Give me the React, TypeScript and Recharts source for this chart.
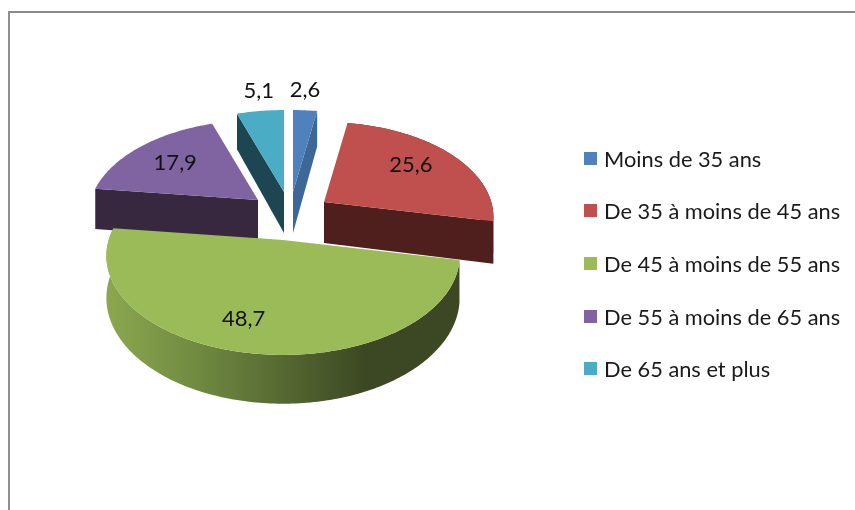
import React from "react";
import { PieChart, Pie, Legend } from "recharts";

const categories = [
  "Moins de 35 ans",
  "De 35 à moins de 45 ans",
  "De 45 à moins de 55 ans",
  "De 55 à moins de 65 ans",
  "De 65 ans et plus",
];
const values = [2.6, 25.6, 48.7, 17.9, 5.1];
const valueLabels = ["2,6", "25,6", "48,7", "17,9", "5,1"];
const topColors = ["#4F81BD", "#C0504D", "#9BBB59", "#8064A2", "#4BACC6"];
const sideColors = ["#3C6797", "#4F1F1E", "url(#greenSide)", "#37283F", "#1D4552"];

// painting order: back slices first, the big front slice last
const drawOrder = [3, 4, 0, 1, 2];
const total = values.reduce((a, b) => a + b, 0);
const before = values.slice(0, drawOrder[0]).reduce((a, b) => a + b, 0);
const START = 90 - (before / total) * 360;

const explodeX = [10, 41, 0, -25, 1];
const explodeY = [-48, -38, 0, -40, -48];
const radiusScale = [0.97, 0.945, 0.985, 0.945, 0.97];
const labelFactor = [1.2, 0.65, 0.68, 0.65, 1.2];
const labelNudgeX = [-3, 0, -16, -2, 4];
const labelNudgeY = [-2, -5, -1, -2, -2];

const chartData = drawOrder.map((i) => ({
  name: categories[i],
  value: values[i],
  idx: i,
  fill: topColors[i],
}));

const TILT = 98 / 177;
const PERSP = 0.16;
const DEPTH = 41;
const FONT = "Lato, 'Open Sans', sans-serif";

function project(r: number, deg: number, f = 1) {
  const a = (deg * Math.PI) / 180;
  const u = Math.cos(a);
  const v = Math.sin(a);
  const s = 1 / (1 + PERSP * v);
  return { x: r * u * s * f, y: -r * TILT * v * s * f, s };
}

function SliceShape(props: any) {
  const { cx, cy, outerRadius, startAngle, endAngle, payload } = props;
  const i = (payload && payload.idx !== undefined ? payload.idx : props.idx) as number;
  const ox = cx + explodeX[i];
  const oy = cy + explodeY[i];
  const pts: { x: number; y: number; s: number }[] = [];
  const steps = Math.max(2, Math.ceil(Math.abs(endAngle - startAngle)));
  for (let k = 0; k <= steps; k++) {
    const d = startAngle + ((endAngle - startAngle) * k) / steps;
    const p = project(outerRadius * radiusScale[i], d);
    pts.push({ x: ox + p.x, y: oy + p.y, s: p.s });
  }
  const top = `M${ox},${oy}` + pts.map((p) => `L${p.x},${p.y}`).join("") + "Z";
  const side =
    "M" +
    pts.map((p) => `${p.x},${p.y}`).join("L") +
    "L" +
    [...pts].reverse().map((p) => `${p.x},${p.y + DEPTH * p.s}`).join("L") +
    "Z";
  const face = (p: { x: number; y: number; s: number }) =>
    `M${ox},${oy}L${p.x},${p.y}L${p.x},${p.y + DEPTH * p.s}L${ox},${oy + DEPTH}Z`;
  const a0 = (startAngle * Math.PI) / 180;
  const a1 = (endAngle * Math.PI) / 180;
  // a cut face is visible when its outward normal points towards the viewer
  const showStart = Math.cos(a0) < 0;
  const showEnd = Math.cos(a1) > 0;
  const frontArc = Math.sin(a0) < 0 || Math.sin(a1) < 0;
  return (
    <g>
      {frontArc && <path d={side} fill={sideColors[i]} />}
      {showStart && <path d={face(pts[0])} fill={sideColors[i]} />}
      {showEnd && <path d={face(pts[pts.length - 1])} fill={sideColors[i]} />}
      <path d={top} fill={topColors[i]} />
    </g>
  );
}

function SliceLabel(props: any) {
  const { cx, cy, outerRadius, midAngle, payload } = props;
  const i = (payload && payload.idx !== undefined ? payload.idx : props.idx) as number;
  const p = project(outerRadius, midAngle, labelFactor[i]);
  return (
    <text
      x={cx + explodeX[i] + p.x + labelNudgeX[i]}
      y={cy + explodeY[i] + p.y + labelNudgeY[i]}
      textAnchor="middle"
      dominantBaseline="central"
      fontFamily={FONT}
      fontSize={22}
      fill="#111"
    >
      {valueLabels[i]}
    </text>
  );
}

function LegendBox() {
  return (
    <div style={{ position: "relative", width: 270, height: 240 }}>
      {categories.map((c, i) => (
        <div
          key={c}
          style={{
            position: "absolute",
            left: 0,
            top: i * 52.7,
            height: 24,
            display: "flex",
            alignItems: "center",
            whiteSpace: "nowrap",
          }}
        >
          <span style={{ display: "inline-block", width: 13, height: 13, background: topColors[i], marginRight: 7 }} />
          <span style={{ fontFamily: FONT, fontSize: 21.8, color: "#1a1a1a" }}>{c}</span>
        </div>
      ))}
    </div>
  );
}

export default function App() {
  return (
    <div
      style={{
        position: "absolute",
        left: 0,
        top: 0,
        width: 855,
        height: 510,
        overflow: "hidden",
        background: "#fff",
        filter: "blur(0.4px)",
      }}
    >
      <div
        style={{
          position: "absolute",
          left: 8,
          top: 11,
          right: -10,
          bottom: -10,
          borderLeft: "2.5px solid #8f8f8f",
          borderTop: "2.5px solid #8a8a8a",
        }}
      />
      <PieChart
        width={855}
        height={510}
        margin={{ top: 0, right: 0, bottom: 0, left: 0 }}
        style={{ position: "absolute", left: 0, top: 0 }}
      >
        <defs>
          <linearGradient id="greenSide" gradientUnits="userSpaceOnUse" x1="107" y1="0" x2="365" y2="0">
            <stop offset="0" stopColor="#8CA74F" />
            <stop offset="0.35" stopColor="#708A41" />
            <stop offset="1" stopColor="#3C4823" />
          </linearGradient>
        </defs>
        <Pie
          data={chartData}
          dataKey="value"
          nameKey="name"
          cx={283}
          cy={240}
          outerRadius={177}
          startAngle={START}
          endAngle={START - 360}
          stroke="none"
          isAnimationActive={false}
          shape={SliceShape}
          activeShape={SliceShape}
          inactiveShape={SliceShape}
          label={SliceLabel}
          labelLine={false}
        />
        <Legend
          layout="vertical"
          align="center"
          verticalAlign="middle"
          wrapperStyle={{ left: 584, top: 146, width: 270 }}
          content={() => <LegendBox />}
        />
      </PieChart>
    </div>
  );
}
